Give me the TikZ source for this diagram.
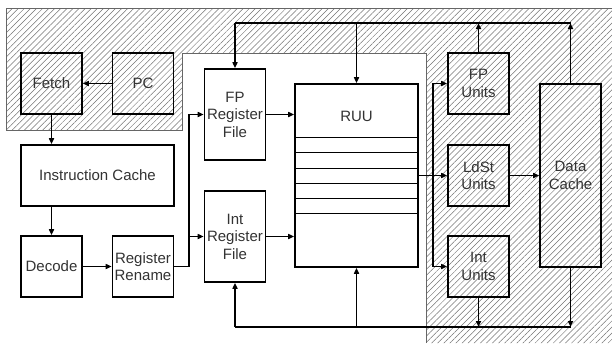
\documentclass[tikz,border=0pt]{standalone}
\usepackage{fontspec}
\setmainfont{Liberation Sans}
\usetikzlibrary{arrows.meta,patterns.meta}

\begin{document}
\begin{tikzpicture}[x=1pt,y=-1pt,font=\fontsize{15}{17.5}\selectfont,
  blk/.style={draw=black,line width=1.6pt,align=center,inner sep=0pt,
              text=black!80,minimum width=61pt,minimum height=61pt},
  link/.style={line width=1.5pt},
  arr/.style={link,-{Triangle[length=6pt,width=5pt]}}]
\useasboundingbox (0,0) rectangle (612,343);

\fill[pattern={Lines[angle=45,distance=4.3pt,line width=0.5pt]},pattern color=black!55]
  (6.5,8) -- (612,8) -- (612,343) -- (426,343) -- (426,53) -- (182,53)
  -- (182,130) -- (6.5,130) -- cycle;
\draw[black!60,line width=0.6pt] (612,8) -- (6.5,8) -- (6.5,130) -- (182,130)
  -- (182,53) -- (426,53) -- (426,343);

\node[blk] (fetch)  at (51.5,83.5)  {Fetch};
\node[blk] (pc)     at (143,83.5)   {PC};
\node[blk,fill=white,minimum width=153pt] (icache) at (97.5,175.5) {Instruction Cache};
\node[blk,fill=white] (decode) at (51.5,266.5) {Decode};
\node[blk,fill=white] (rename) at (143,266.5)  {Register\\Rename};
\node[blk,fill=white,minimum height=91pt] (fpreg)  at (235,114.5) {FP\\Register\\File};
\node[blk,fill=white,minimum height=91pt] (intreg) at (235,236.5) {Int\\Register\\File};
\node[blk,fill=white,minimum width=123pt,minimum height=183pt,
      label={[text=black!80,anchor=center,yshift=-33pt]north:RUU}] (ruu) at (356.5,175.5) {};
\node[blk] (fpu)    at (478.5,83.5)  {FP\\Units};
\node[blk] (ldst)   at (478.5,175.5) {LdSt\\Units};
\node[blk] (intu)   at (478.5,266.5) {Int\\Units};
\node[blk,minimum height=183pt] (dcache) at (570.5,175.5) {Data\\Cache};

\foreach \y in {137,152.5,168,183,198,213}
  \draw[line width=0.8pt] (ruu.west |- 0,\y) -- (ruu.east |- 0,\y);

\coordinate (tbus) at (0,23);
\coordinate (bbus) at (0,327);
\coordinate (rsplit) at (189,266.5);
\coordinate (usplit) at (433,175.5);

\draw[arr] (pc) -- (fetch);
\draw[arr] (fetch.south) -- (fetch.south |- icache.north);
\draw[arr] (icache.south -| decode) -- (decode.north);
\draw[arr] (decode) -- (rename);
\draw[arr] (rename.east) -- (rsplit) |- (fpreg.west);
\draw[arr] (rsplit) |- (intreg.west);
\draw[arr] (fpreg.east) -- (fpreg.east -| ruu.west);
\draw[arr] (intreg.east) -- (intreg.east -| ruu.west);

\draw[link] (dcache.north |- tbus) -- (fpreg.north |- tbus);
\draw[arr] (fpreg.north |- tbus) -- (fpreg.north);
\draw[arr] (ruu.north |- tbus) -- (ruu.north);
\draw[arr] (fpu.north) -- (fpu.north |- tbus);
\draw[arr] (dcache.north) -- (dcache.north |- tbus);

\draw[link] (ruu.east |- usplit) -- (usplit);
\draw[arr] (usplit) -- (ldst.west);
\draw[arr] (usplit) |- (fpu.west);
\draw[arr] (usplit) |- (intu.west);
\draw[arr] (ldst.east) -- (ldst.east -| dcache.west);

\draw[link] (dcache.south |- bbus) -- (intreg.south |- bbus);
\draw[arr] (intreg.south |- bbus) -- (intreg.south);
\draw[arr] (ruu.south |- bbus) -- (ruu.south);
\draw[arr] (intu.south) -- (intu.south |- bbus);
\draw[arr] (dcache.south) -- (dcache.south |- bbus);
\end{tikzpicture}
\end{document}
